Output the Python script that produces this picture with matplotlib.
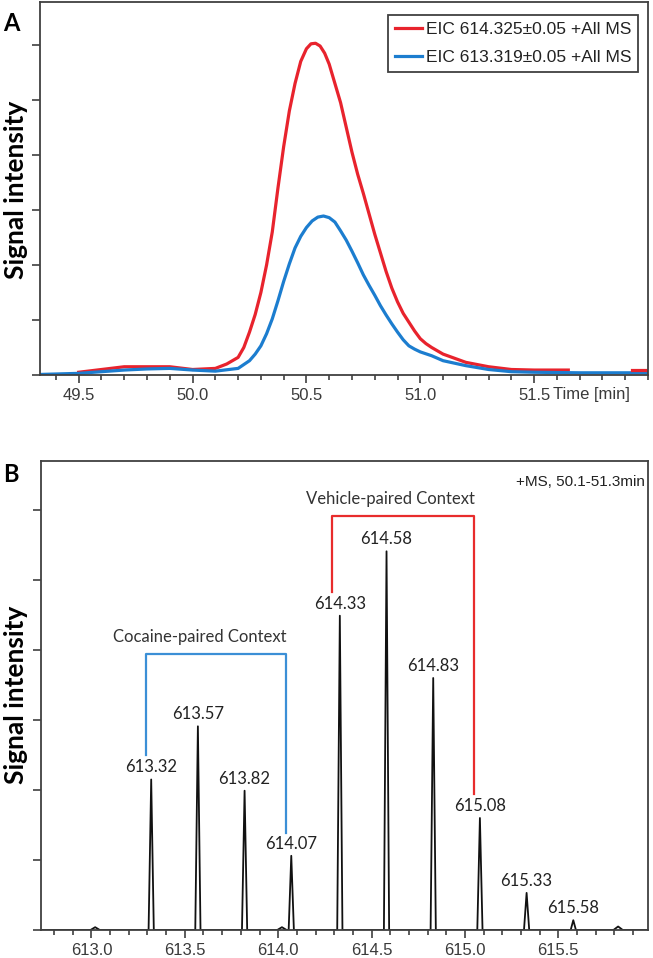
import numpy as np
import matplotlib.pyplot as plt
from matplotlib.ticker import MultipleLocator, FixedLocator, NullFormatter

# ---- Panel A: extracted ion chromatograms (time in min, intensity in arbitrary units)
red_time = [49.50, 49.60, 49.70, 49.80, 49.90, 50.00, 50.10, 50.15, 50.20, 50.225,
            50.25, 50.275, 50.30, 50.325, 50.35, 50.375, 50.40, 50.425, 50.45, 50.475,
            50.50, 50.52, 50.54, 50.56, 50.58, 50.60, 50.625, 50.65, 50.675, 50.70,
            50.725, 50.75, 50.80, 50.85, 50.875, 50.90, 50.925, 50.95, 50.975, 51.00,
            51.025, 51.05, 51.10, 51.20, 51.30, 51.40, 51.50, 51.65]
red_int = [0.05, 0.10, 0.15, 0.15, 0.15, 0.10, 0.12, 0.20, 0.32, 0.50,
           0.78, 1.10, 1.50, 2.00, 2.60, 3.40, 4.15, 4.80, 5.30, 5.70,
           5.93, 6.02, 6.03, 5.98, 5.85, 5.65, 5.30, 4.95, 4.50, 4.05,
           3.65, 3.30, 2.56, 1.88, 1.58, 1.33, 1.12, 0.96, 0.80, 0.66,
           0.57, 0.50, 0.38, 0.23, 0.15, 0.10, 0.09, 0.09]
red_tail_time = [51.93, 52.00]
red_tail_int = [0.09, 0.09]

blue_time = [49.33, 49.50, 49.60, 49.70, 49.80, 49.90, 50.00, 50.10, 50.20, 50.25,
             50.275, 50.30, 50.325, 50.35, 50.375, 50.40, 50.425, 50.45, 50.475, 50.50,
             50.525, 50.55, 50.575, 50.60, 50.625, 50.65, 50.675, 50.70, 50.725, 50.75,
             50.775, 50.80, 50.825, 50.85, 50.875, 50.90, 50.925, 50.95, 50.975, 51.00,
             51.05, 51.10, 51.20, 51.30, 51.40, 51.50, 51.70, 52.00]
blue_int = [0.01, 0.03, 0.06, 0.09, 0.11, 0.12, 0.09, 0.07, 0.12, 0.26,
            0.38, 0.53, 0.75, 1.02, 1.35, 1.70, 2.02, 2.31, 2.52, 2.68,
            2.80, 2.87, 2.89, 2.86, 2.78, 2.62, 2.45, 2.25, 2.04, 1.82,
            1.63, 1.45, 1.26, 1.09, 0.93, 0.78, 0.64, 0.53, 0.47, 0.42,
            0.35, 0.26, 0.17, 0.10, 0.06, 0.05, 0.04, 0.04]

red_label = 'EIC 614.325±0.05 +All MS'
blue_label = 'EIC 613.319±0.05 +All MS'
time_ticks = [49.5, 50.0, 50.5, 51.0, 51.5]

# ---- Panel B: mass spectrum (m/z, intensity)
peak_mz = [613.32, 613.57, 613.82, 614.07, 614.33, 614.58, 614.83, 615.08, 615.33, 615.58]
peak_int = [2.15, 2.91, 1.99, 1.06, 4.49, 5.41, 3.60, 1.60, 0.53, 0.14]
peak_labels = ['613.32', '613.57', '613.82', '614.07', '614.33',
               '614.58', '614.83', '615.08', '615.33', '615.58']
bump_mz = [613.02, 614.02, 615.82]
bump_int = [0.04, 0.04, 0.05]
mz_ticks = [613.0, 613.5, 614.0, 614.5, 615.0, 615.5]

# brackets: (left x, right x, top y, left bottom, right bottom)
cocaine_bracket = (613.29, 614.04, 3.94, 2.50, 1.39)
vehicle_bracket = (614.29, 615.05, 5.91, 4.83, 1.94)

RED = '#e8232d'
BLUE = '#1c7dcf'
SPINE = '#404040'
TICKLAB = '#3a3a3a'

fig = plt.figure(figsize=(6.53, 9.58), dpi=100)
W, H = 653, 958


def px_axes(l, t, r, b):
    return fig.add_axes([l / W, 1 - b / H, (r - l) / W, (b - t) / H])


def style_axes(ax, pad):
    for s in ax.spines.values():
        s.set_color(SPINE)
        s.set_linewidth(1.3)
    ax.tick_params(axis='both', which='major', direction='out', length=6,
                   width=1.2, color=SPINE, labelsize=12, labelcolor=TICKLAB, pad=pad)
    ax.tick_params(axis='both', which='minor', direction='out', length=3.5,
                   width=1.2, color=SPINE)
    ax.yaxis.set_major_formatter(NullFormatter())
    for lab in ax.get_xticklabels():
        lab.set_fontfamily('Liberation Sans')


# ---------------- Panel A
axA = px_axes(40, 2, 648, 375)
axA.plot(red_time, red_int, color=RED, lw=2.3, label=red_label)
axA.plot(blue_time, blue_int, color=BLUE, lw=2.3, label=blue_label)
axA.plot(red_tail_time, red_tail_int, color=RED, lw=2.3)
axA.set_xlim(49.33, 52.0)
axA.set_ylim(0, 6.78)
axA.xaxis.set_major_locator(FixedLocator(time_ticks))
axA.xaxis.set_minor_locator(MultipleLocator(0.1))
axA.yaxis.set_major_locator(MultipleLocator(1))
axA.set_xticklabels([f'{t:.1f}' for t in time_ticks])
style_axes(axA, 3)
axA.text(553 / W, 1 - 395 / H, 'Time [min]', transform=fig.transFigure,
         ha='left', va='center', fontsize=12, color=TICKLAB, family='Liberation Sans')
leg = axA.legend(loc='upper right', bbox_to_anchor=(0.984, 0.965), borderaxespad=0,
                 fancybox=False, framealpha=1, edgecolor=SPINE, handlelength=1.6,
                 handletextpad=0.2, labelspacing=0.75, borderpad=0.4,
                 prop={'family': 'Liberation Sans', 'size': 12.5})
leg.get_frame().set_linewidth(1.3)
for t in leg.get_texts():
    t.set_color('#222222')

# ---------------- Panel B
axB = px_axes(41, 461, 648, 930)
w = 0.014
mz_line = [612.6]
int_line = [0.0]
for c, h in sorted(zip(peak_mz + bump_mz, peak_int + bump_int)):
    hw = w if h > 0.1 else 0.025
    mz_line += [c - hw, c, c + hw]
    int_line += [0.0, h, 0.0]
mz_line.append(616.2)
int_line.append(0.0)
axB.plot(mz_line, int_line, color='#111111', lw=1.3)
axB.set_xlim(612.73, 615.98)
axB.set_ylim(0, 6.7)
axB.xaxis.set_major_locator(FixedLocator(mz_ticks))
axB.xaxis.set_minor_locator(MultipleLocator(0.1))
axB.yaxis.set_major_locator(MultipleLocator(1))
axB.set_xticklabels([f'{t:.1f}' for t in mz_ticks])
style_axes(axB, 3.5)

for c, h, lab in zip(peak_mz, peak_int, peak_labels):
    axB.annotate(lab, (c, h), xytext=(0, 3), textcoords='offset points',
                 ha='center', va='bottom', fontsize=12, family='Lato', color='#222222')

for (xl, xr, yt, ybl, ybr), col in [(cocaine_bracket, '#3b8fd6'), (vehicle_bracket, '#e82c2c')]:
    axB.plot([xl, xl, xr, xr], [ybl, yt, yt, ybr], color=col, lw=1.6)

axB.text(613.58, 4.19, 'Cocaine-paired Context', ha='center', va='center',
         fontsize=12, family='Lato', color='#333333')
axB.text(614.6, 6.16, 'Vehicle-paired Context', ha='center', va='center',
         fontsize=12, family='Lato', color='#333333')
axB.text(0.995, 0.955, '+MS, 50.1-51.3min', transform=axB.transAxes, ha='right',
         va='center', fontsize=11, family='Liberation Sans', color='#222222')

# ---------------- labels
fig.text(16 / W, 1 - 190 / H, 'Signal intensity', rotation=90, ha='center', va='center',
         fontsize=19, fontweight='bold', family='Lato')
fig.text(16 / W, 1 - 695 / H, 'Signal intensity', rotation=90, ha='center', va='center',
         fontsize=19, fontweight='bold', family='Lato')
fig.text(3 / W, 1 - 31 / H, 'A', ha='left', va='baseline', fontsize=17,
         fontweight='bold', family='Lato')
fig.text(3 / W, 1 - 482 / H, 'B', ha='left', va='baseline', fontsize=17,
         fontweight='bold', family='Lato')

fig.savefig('out.png', dpi=100)
